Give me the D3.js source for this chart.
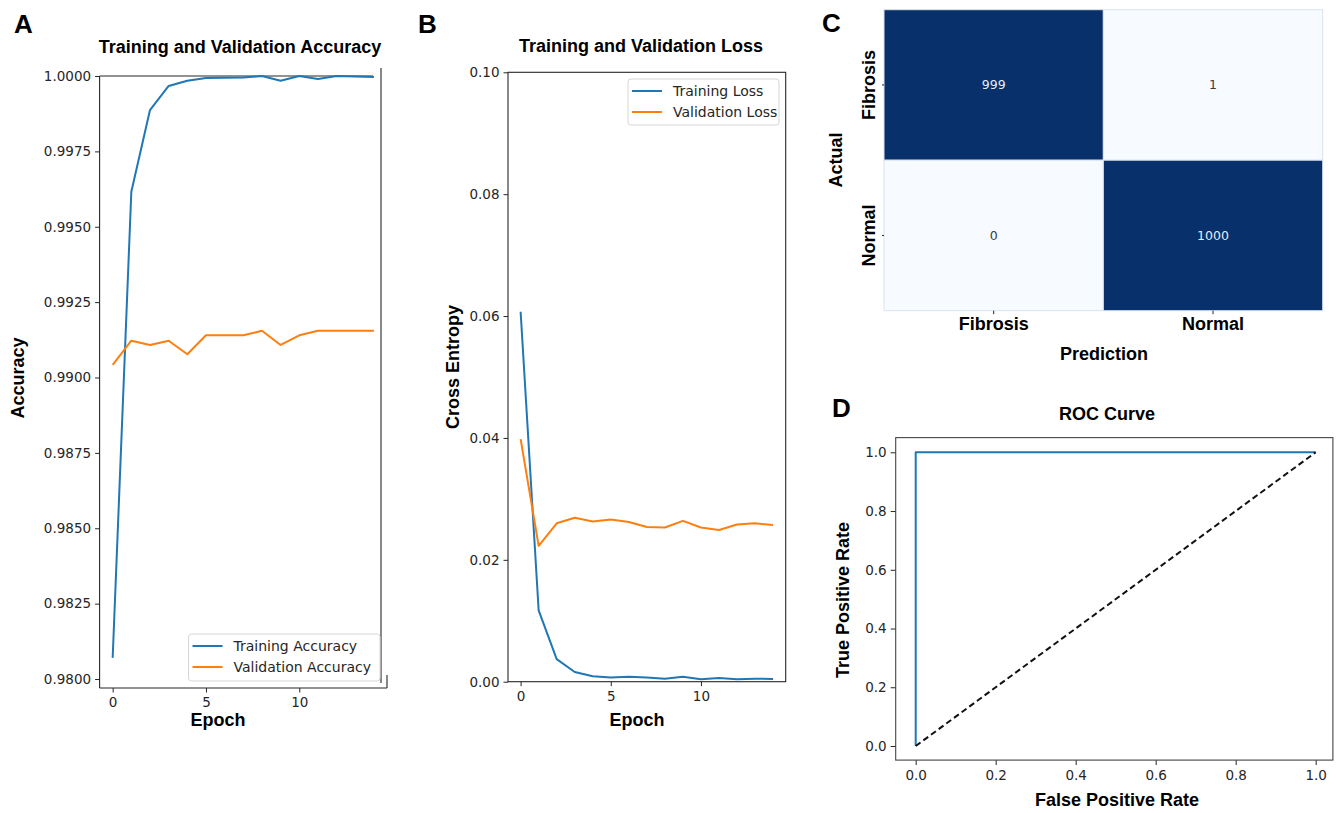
<!DOCTYPE html>
<html lang="en">
<head>
  <meta charset="UTF-8" />
  <title>Training curves, confusion matrix and ROC</title>
  <script src="https://d3js.org/d3.v7.min.js"></script>
  <style>
    body { margin: 0; background: #fff; }
    svg { display: block; }
    .tick text { font-family: "DejaVu Sans", sans-serif; font-size: 13.5px; fill: #262626; }
    .tick line { stroke: #262626; stroke-width: 1px; }
    .bold { font-family: "Liberation Sans", Arial, sans-serif; font-weight: bold; font-size: 18px; fill: #000; }
    .tick text.bold { font-family: "Liberation Sans", Arial, sans-serif; font-weight: bold; font-size: 18px; fill: #000; }
    .letter { font-family: "Liberation Sans", Arial, sans-serif; font-weight: bold; font-size: 26px; fill: #000; }
    .legend text { font-family: "DejaVu Sans", sans-serif; font-size: 14px; fill: #262626; }
    .spine { stroke: #262626; stroke-width: 1.1px; fill: none; }
  </style>
</head>
<body>
<svg id="fig" width="1343" height="813"></svg>
<script>
  // data
  const epochs = [0, 1, 2, 3, 4, 5, 6, 7, 8, 9, 10, 11, 12, 13, 14];
  const trainAcc = [0.9807, 0.99616, 0.99887, 0.99967, 0.99984, 0.99993, 0.99994, 0.99995,
                    1.0, 0.99984, 1.0, 0.9999, 1.0, 0.99998, 0.99997];
  const valAcc = [0.99042, 0.99122, 0.99108, 0.99122, 0.99077, 0.9914, 0.9914, 0.9914,
                  0.99155, 0.99108, 0.9914, 0.99155, 0.99155, 0.99155, 0.99155];
  const trainLoss = [0.0607, 0.0117, 0.0037, 0.0016, 0.0009, 0.0007, 0.0008, 0.0007,
                     0.0005, 0.0008, 0.0004, 0.0006, 0.0004, 0.0005, 0.00045];
  const valLoss = [0.0398, 0.0223, 0.026, 0.0269, 0.0263, 0.0266, 0.0262, 0.0254,
                   0.0253, 0.0264, 0.0253, 0.0249, 0.0258, 0.026, 0.0257];
  const classes = ["Fibrosis", "Normal"];
  const confusion = [[999, 1], [0, 1000]];
  const rocFpr = [0, 0, 1];
  const rocTpr = [0, 1, 1];
  const chance = [0, 1];

  const accTicks = [0.98, 0.9825, 0.985, 0.9875, 0.99, 0.9925, 0.995, 0.9975, 1.0];
  const lossTicks = [0, 0.02, 0.04, 0.06, 0.08, 0.1];
  const epochTicks = [0, 5, 10];
  const rateTicks = [0, 0.2, 0.4, 0.6, 0.8, 1.0];

  const BLUE = "#1f77b4", ORANGE = "#ff7f0e";
  const svg = d3.select("#fig");

  function cleanAxis(g) {
    g.select(".domain").remove();
  }
  function hline(g, x1, x2, y, cls) {
    g.append("line").attr("class", cls || "spine").attr("x1", x1).attr("x2", x2).attr("y1", y).attr("y2", y);
  }
  function vline(g, x, y1, y2, cls) {
    g.append("line").attr("class", cls || "spine").attr("x1", x).attr("x2", x).attr("y1", y1).attr("y2", y2);
  }
  function series(g, xs, ys, xScale, yScale, color) {
    g.append("path")
      .datum(xs.map((d, i) => [d, ys[i]]))
      .attr("fill", "none").attr("stroke", color).attr("stroke-width", 2)
      .attr("stroke-linejoin", "round")
      .attr("d", d3.line().x(d => xScale(d[0])).y(d => yScale(d[1])));
  }
  function legend(g, x, y, w, h, items) {
    const lg = g.append("g").attr("class", "legend");
    lg.append("rect").attr("x", x).attr("y", y).attr("width", w).attr("height", h)
      .attr("rx", 3).attr("fill", "#fff").attr("fill-opacity", 0.85)
      .attr("stroke", "#d6d6d6");
    items.forEach((it, i) => {
      const cy = y + 12 + i * 21;
      lg.append("line").attr("x1", x + 4).attr("x2", x + 34).attr("y1", cy).attr("y2", cy)
        .attr("stroke", it.color).attr("stroke-width", 2);
      lg.append("text").attr("x", x + 45).attr("y", cy + 5).text(it.label);
    });
  }

  // ---------- Panel A: accuracy ----------
  const gA = svg.append("g");
  const xA = d3.scaleLinear([-0.7, 14.7], [99.6, 387]);
  const yA = d3.scaleLinear([0.98, 1.0], [679, 76]);
  gA.append("g").attr("transform", "translate(99.6,0)")
    .call(d3.axisLeft(yA).tickValues(accTicks).tickFormat(d3.format(".4f")).tickSize(4.5).tickPadding(4))
    .call(cleanAxis);
  gA.append("g").attr("transform", "translate(0,688)")
    .call(d3.axisBottom(xA).tickValues(epochTicks).tickSize(4.5).tickPadding(5))
    .call(cleanAxis);
  vline(gA, 99.6, 76, 688);
  hline(gA, 99.6, 387, 688);
  hline(gA, 99.6, 373, 76);
  vline(gA, 381, 68, 683, "spine");
  vline(gA, 387, 675, 688);
  series(gA, epochs, trainAcc, xA, yA, BLUE);
  series(gA, epochs, valAcc, xA, yA, ORANGE);
  legend(gA, 188.5, 634, 191.5, 47, [
    { label: "Training Accuracy", color: BLUE },
    { label: "Validation Accuracy", color: ORANGE }
  ]);
  gA.append("text").attr("class", "bold").attr("x", 240).attr("y", 53).attr("text-anchor", "middle")
    .text("Training and Validation Accuracy");
  gA.append("text").attr("class", "bold").attr("x", 218).attr("y", 726).attr("text-anchor", "middle").text("Epoch");
  gA.append("text").attr("class", "bold").attr("text-anchor", "middle")
    .attr("transform", "translate(24,378) rotate(-90)").text("Accuracy");
  gA.append("text").attr("class", "letter").attr("x", 14).attr("y", 33).text("A");

  // ---------- Panel B: loss ----------
  const gB = svg.append("g");
  const xB = d3.scaleLinear([-0.7, 14.7], [508, 785.7]);
  const yB = d3.scaleLinear([0, 0.1], [681.7, 72.3]);
  gB.append("g").attr("transform", "translate(508,0)")
    .call(d3.axisLeft(yB).tickValues(lossTicks).tickFormat(d3.format(".2f")).tickSize(4.5).tickPadding(4))
    .call(cleanAxis);
  gB.append("g").attr("transform", "translate(0,681.7)")
    .call(d3.axisBottom(xB).tickValues(epochTicks).tickSize(4.5).tickPadding(5))
    .call(cleanAxis);
  gB.append("rect").attr("class", "spine").attr("x", 508).attr("y", 72.3)
    .attr("width", 785.7 - 508).attr("height", 681.7 - 72.3);
  series(gB, epochs, trainLoss, xB, yB, BLUE);
  series(gB, epochs, valLoss, xB, yB, ORANGE);
  legend(gB, 628, 79, 151, 46, [
    { label: "Training Loss", color: BLUE },
    { label: "Validation Loss", color: ORANGE }
  ]);
  gB.append("text").attr("class", "bold").attr("x", 641).attr("y", 52).attr("text-anchor", "middle")
    .text("Training and Validation Loss");
  gB.append("text").attr("class", "bold").attr("x", 637).attr("y", 726).attr("text-anchor", "middle").text("Epoch");
  gB.append("text").attr("class", "bold").attr("text-anchor", "middle")
    .attr("transform", "translate(459,367) rotate(-90)").text("Cross Entropy");
  gB.append("text").attr("class", "letter").attr("x", 418).attr("y", 33).text("B");

  // ---------- Panel C: confusion matrix ----------
  const gC = svg.append("g");
  const xC = d3.scaleBand(classes, [884, 1322.7]);
  const yC = d3.scaleBand(classes, [9.7, 310.7]);
  const color = d3.scaleSequential(d3.interpolateBlues).domain([0, 1000]);
  const cells = [];
  confusion.forEach((row, i) => row.forEach((v, j) => cells.push({ actual: classes[i], pred: classes[j], v })));
  gC.selectAll("rect.cell").data(cells).join("rect").attr("class", "cell")
    .attr("x", d => xC(d.pred)).attr("y", d => yC(d.actual))
    .attr("width", xC.bandwidth()).attr("height", yC.bandwidth())
    .attr("fill", d => color(d.v)).attr("stroke", "#d9e3ef").attr("stroke-width", 1);
  gC.selectAll("text.val").data(cells).join("text").attr("class", "val")
    .attr("x", d => xC(d.pred) + xC.bandwidth() / 2)
    .attr("y", d => yC(d.actual) + yC.bandwidth() / 2 + 4.5)
    .attr("text-anchor", "middle")
    .style("font-family", "DejaVu Sans, sans-serif").style("font-size", "12.5px")
    .attr("fill", d => d.v > 500 ? "#e6edf5" : "#3a3a3a")
    .text(d => d.v);
  gC.append("g").attr("transform", "translate(0,310.7)")
    .call(d3.axisBottom(xC).tickSize(3.5).tickPadding(6))
    .call(cleanAxis)
    .call(g => g.selectAll(".tick text").attr("class", "bold").attr("dy", "0.55em"));
  gC.append("g").attr("transform", "translate(884,0)")
    .call(d3.axisLeft(yC).tickSize(2).tickPadding(9))
    .call(cleanAxis)
    .call(g => g.selectAll(".tick text").attr("class", "bold")
      .attr("text-anchor", "middle").attr("transform", "rotate(-90)")
      .attr("x", 0).attr("dy", 0).attr("y", -9));
  gC.append("text").attr("class", "bold").attr("x", 1104).attr("y", 360).attr("text-anchor", "middle").text("Prediction");
  gC.append("text").attr("class", "bold").attr("text-anchor", "middle")
    .attr("transform", "translate(841.5,160) rotate(-90)").text("Actual");
  gC.append("text").attr("class", "letter").attr("x", 822).attr("y", 32).text("C");

  // ---------- Panel D: ROC ----------
  const gD = svg.append("g");
  const xD = d3.scaleLinear([0, 1], [915.7, 1315.7]);
  const yD = d3.scaleLinear([0, 1], [746, 452.3]);
  const dLeft = xD(-0.05), dRight = xD(1.043), dTop = yD(1.05), dBottom = yD(-0.048);
  gD.append("g").attr("transform", `translate(${dLeft},0)`)
    .call(d3.axisLeft(yD).tickValues(rateTicks).tickFormat(d3.format(".1f")).tickSize(5).tickPadding(4))
    .call(cleanAxis);
  gD.append("g").attr("transform", `translate(0,${dBottom})`)
    .call(d3.axisBottom(xD).tickValues(rateTicks).tickFormat(d3.format(".1f")).tickSize(5).tickPadding(5))
    .call(cleanAxis);
  gD.append("rect").attr("class", "spine").attr("x", dLeft).attr("y", dTop)
    .attr("width", dRight - dLeft).attr("height", dBottom - dTop).style("stroke", "#444");
  series(gD, rocFpr, rocTpr, xD, yD, BLUE);
  gD.append("path").datum(chance.map(d => [d, d]))
    .attr("fill", "none").attr("stroke", "#111").attr("stroke-width", 2).attr("stroke-dasharray", "6,3.5")
    .attr("d", d3.line().x(d => xD(d[0])).y(d => yD(d[1])));
  gD.append("text").attr("class", "bold").attr("x", 1107).attr("y", 420).attr("text-anchor", "middle").text("ROC Curve");
  gD.append("text").attr("class", "bold").attr("x", 1117).attr("y", 806).attr("text-anchor", "middle").text("False Positive Rate");
  gD.append("text").attr("class", "bold").attr("text-anchor", "middle")
    .attr("transform", "translate(849,600) rotate(-90)").text("True Positive Rate");
  gD.append("text").attr("class", "letter").attr("x", 832).attr("y", 417).text("D");
</script>
</body>
</html>
